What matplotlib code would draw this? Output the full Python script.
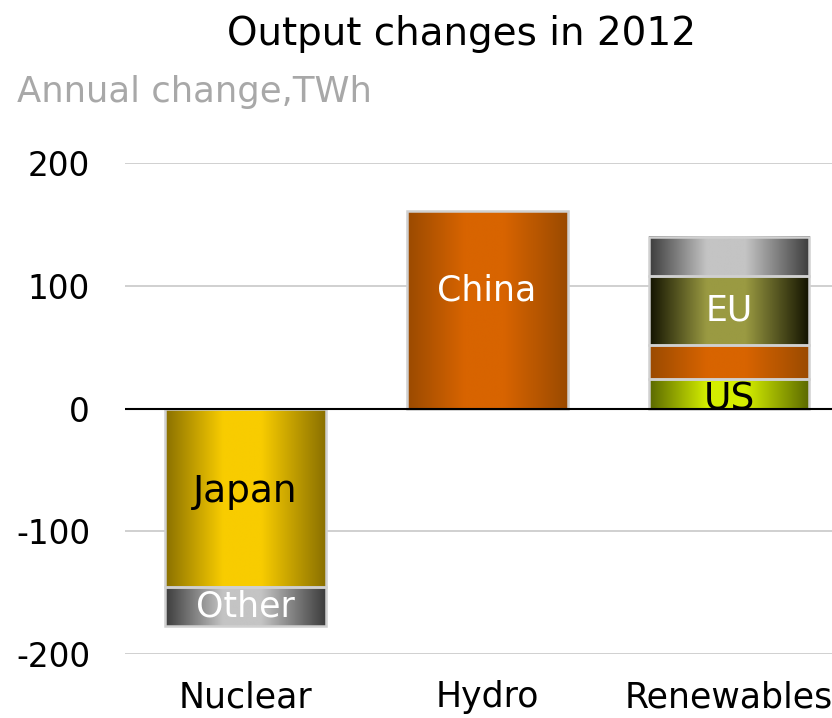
import numpy as np
import matplotlib
matplotlib.use("Agg")
import matplotlib.pyplot as plt
from matplotlib.colors import LinearSegmentedColormap

# === DATA ===
categories = ["Nuclear", "Hydro", "Renewables"]
# stacked segments per category: (label, value)
nuclear_segments = [("Japan", -145), ("Other", -32)]
hydro_segments = [("China", 161)]
renewables_segments = [("US", 24), ("", 28), ("EU", 56), ("", 32)]
yticks = [-200, -100, 0, 100, 200]

# gradient colours (edge, centre) per segment label
seg_colors = {
    "Japan": ("#8a7000", "#f8cc00"),
    "Other": ("#3c3c3c", "#c4c4c4"),
    "China": ("#9a4a00", "#d86400"),
    "US": ("#5a6800", "#d4ee00"),
    "EU": ("#121200", "#9a9a42"),
}
ren_extra = [("#9a4a00", "#d86400"), ("#3c3c3c", "#c4c4c4")]
text_colors = {"Japan": "black", "Other": "white", "China": "white", "EU": "white", "US": "black"}
label_size = {"Japan": 27, "US": 27}

plt.rcParams["font.family"] = ["DejaVu Sans"]

fig = plt.figure(figsize=(8.32, 7.18), dpi=100)
ax = fig.add_axes([0.150, 0.089, 0.85, 0.684])
ax.set_xlim(-0.498, 2.426)
ax.set_ylim(-200, 200)

bar_w = 0.665


def grad_bar(x, y0, y1, edge, centre):
    cmap = LinearSegmentedColormap.from_list(
        "g", [(0, edge), (0.36, centre), (0.6, centre), (1, edge)], N=256)
    grad = np.linspace(0, 1, 256).reshape(1, -1)
    ax.imshow(grad, cmap=cmap, aspect="auto", interpolation="bilinear",
              extent=(x - bar_w / 2, x + bar_w / 2, min(y0, y1), max(y0, y1)), zorder=2)
    ax.add_patch(plt.Rectangle((x - bar_w / 2, min(y0, y1)), bar_w, abs(y1 - y0),
                               fill=False, edgecolor="#d0d0d0", lw=1.8, zorder=3))


all_segs = [nuclear_segments, hydro_segments, renewables_segments]
label_y = {"China": 96, "US": 7, "Japan": -68}
for i, segs in enumerate(all_segs):
    base = 0
    extra = 0
    for label, val in segs:
        if label:
            edge, centre = seg_colors[label]
        else:
            edge, centre = ren_extra[extra]
            extra += 1
        grad_bar(i, base, base + val, edge, centre)
        if label:
            ymid = label_y.get(label, base + val / 2)
            ax.text(i, ymid, label, ha="center", va="center",
                    fontsize=label_size.get(label, 25),
                    color=text_colors[label], zorder=4)
        base += val

# grid
for y in yticks:
    ax.axhline(y, color="black" if y == 0 else "#c8c8c8",
               lw=1.5 if y == 0 else 1.2, zorder=5 if y == 0 else 1)

for s in ax.spines.values():
    s.set_visible(False)
ax.set_yticks(yticks)
ax.set_yticklabels([str(v) for v in yticks], fontsize=23.5)
ax.tick_params(axis="y", length=0, pad=25)
ax.set_xticks(range(len(categories)))
ax.set_xticklabels(categories, fontsize=25)
ax.tick_params(axis="x", length=0, pad=19)

fig.text(0.555, 0.952, "Output changes in 2012", ha="center", va="center", fontsize=28)
fig.text(0.021, 0.872, "Annual change,TWh", ha="left", va="center", fontsize=25.5, color="#a8a8a8")

fig.savefig("out.png", dpi=100)
